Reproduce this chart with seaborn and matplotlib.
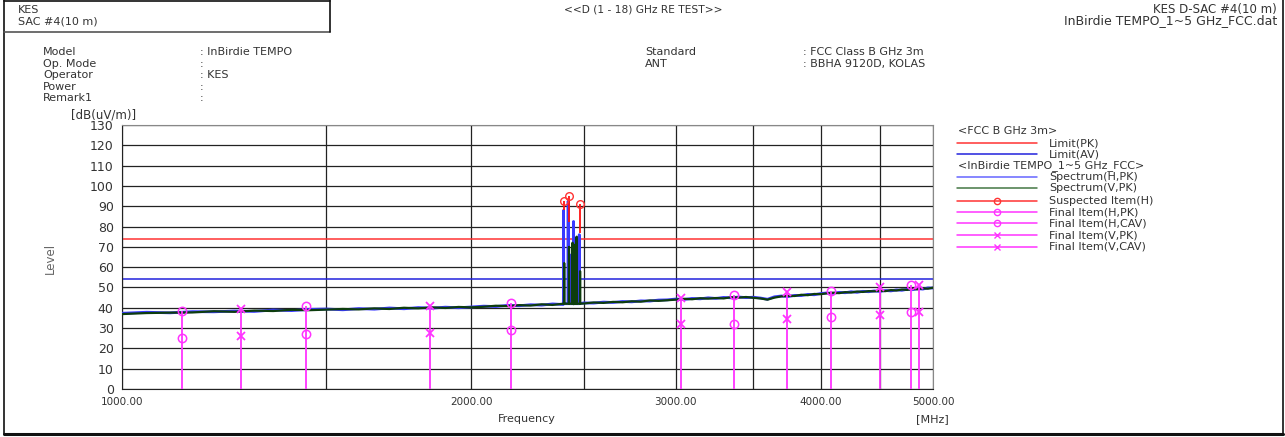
import matplotlib
matplotlib.use("Agg")
import matplotlib.pyplot as plt
from matplotlib.lines import Line2D
from matplotlib.ticker import FixedLocator, NullFormatter, FixedFormatter
import seaborn as sns
import pandas as pd

# ---- data ----
base_freq = list(range(1000, 5001, 50))
spec_h_base = [37.3, 37.8, 37.5, 38.1, 38.0, 38.4, 38.2, 38.9, 38.6, 39.2,
               39.4, 39.0, 39.6, 39.3, 39.9, 39.5, 40.1, 39.8, 40.3, 40.0,
               40.4, 40.8, 40.6, 41.2, 41.0, 41.5, 41.3, 41.9, 41.6, 42.2,
               42.4, 42.3, 42.8, 42.6, 43.1, 42.9, 43.4, 43.3, 43.8, 43.9,
               44.3, 44.1, 44.6, 44.4, 44.9, 44.6, 45.1, 44.9, 45.3, 45.0,
               45.2, 44.8, 44.2, 45.4, 45.8, 45.5, 46.1, 46.0, 46.6, 46.4,
               47.0, 47.3, 47.1, 47.6, 47.4, 47.9, 47.6, 48.1, 47.9, 48.3,
               48.0, 48.5, 48.3, 48.8, 48.6, 49.1, 48.9, 49.4, 49.2, 49.8,
               49.7]
spec_v_base = [36.9, 37.4, 37.6, 37.7, 38.3, 38.0, 38.6, 38.4, 39.0, 38.8,
               39.1, 39.4, 39.2, 39.7, 39.4, 40.0, 39.7, 40.2, 39.9, 40.4,
               40.2, 40.5, 41.0, 40.8, 41.3, 41.1, 41.7, 41.4, 42.0, 41.8,
               42.1, 42.6, 42.4, 42.9, 42.7, 43.2, 43.0, 43.6, 43.4, 43.7,
               44.0, 44.4, 44.2, 44.7, 44.5, 44.8, 44.6, 45.2, 45.0, 45.3,
               44.9, 44.6, 44.0, 45.0, 45.6, 45.9, 45.8, 46.4, 46.2, 46.8,
               46.7, 47.1, 47.4, 47.2, 47.7, 47.5, 48.0, 47.8, 48.2, 48.1,
               48.4, 48.2, 48.7, 48.5, 49.0, 48.8, 49.3, 49.1, 49.6, 49.4,
               49.9]

# narrow emissions around 2.4 GHz
h_spike_freq = [2401, 2402, 2403, 2423, 2424, 2425, 2436, 2437, 2438,
                2449, 2450, 2451, 2477, 2478, 2479]
h_spike_level = [42, 88, 42, 42, 92.5, 42, 42, 66, 42, 42, 82.5, 42, 42, 76, 42]
v_spike_freq = [2404, 2405, 2406, 2427, 2428, 2429, 2444, 2445, 2446,
                2454, 2455, 2456, 2464, 2465, 2466, 2481, 2482, 2483]
v_spike_level = [42, 62, 42, 42, 70, 42, 42, 72, 42, 42, 71, 42, 42, 75, 42, 42, 58, 42]

limit_pk = 74
limit_av = 54

susp_freq = [2402, 2426, 2480]
susp_level = [92.7, 95.0, 91.0]
susp_base = [88.0, 82.0, 77.0]

fin_h_freq = [1126, 1441, 2163, 3368, 4087, 4782]
fin_h_pk = [38.6, 40.7, 42.5, 46.5, 48.1, 51.2]
fin_h_cav = [25.1, 27.3, 29.2, 32.2, 35.3, 37.9]
fin_v_freq = [1267, 1843, 3030, 3741, 4502, 4865]
fin_v_pk = [39.4, 40.7, 44.7, 47.6, 50.0, 51.2]
fin_v_cav = [26.1, 27.8, 32.0, 34.3, 36.4, 38.1]

x_ticks = [1000, 2000, 3000, 4000, 5000]
x_grid_minor = [1500, 2500, 3500, 4500]

# ---- styling ----
sns.set_style("white")
plt.rcParams['font.family'] = ['DejaVu Sans']
plt.rcParams['font.size'] = 7.5
TXT = "#333333"
MAG = "#ff33ff"
BLUE_H = "#3a3aff"
GREEN_V = "#0d3d0d"

W, H = 1285, 437
fig = plt.figure(figsize=(W / 100, H / 100), dpi=100)
ax = fig.add_axes([122 / W, 1 - 389 / H, 811 / W, 264 / H])

df_h = pd.DataFrame({"freq": base_freq + h_spike_freq,
                     "level": spec_h_base + h_spike_level}).sort_values("freq")
df_v = pd.DataFrame({"freq": base_freq + v_spike_freq,
                     "level": spec_v_base + v_spike_level}).sort_values("freq")

ax.axhline(limit_pk, color="#ff3333", lw=1.1, zorder=2)
ax.axhline(limit_av, color="#2222dd", lw=1.1, zorder=2)

sns.lineplot(data=df_h, x="freq", y="level", estimator=None, sort=False,
             color=BLUE_H, lw=2.0, ax=ax, zorder=3)
sns.lineplot(data=df_v, x="freq", y="level", estimator=None, sort=False,
             color=GREEN_V, lw=1.6, ax=ax, zorder=4)

# suspected items
ax.vlines(susp_freq, susp_base, susp_level, color="#ff1111", lw=1.3, zorder=5)
ax.plot(susp_freq, susp_level, "o", ms=5.5, mfc="none", mec="#ff3333", mew=1.0, zorder=6)

# final items
ax.vlines(fin_h_freq, 0, fin_h_pk, color=MAG, lw=1.3, zorder=5)
ax.vlines(fin_v_freq, 0, fin_v_pk, color=MAG, lw=1.3, zorder=5)
ax.plot(fin_h_freq, fin_h_pk, "o", ms=6, mfc="none", mec=MAG, mew=1.1, zorder=6)
ax.plot(fin_h_freq, fin_h_cav, "o", ms=6, mfc="none", mec=MAG, mew=1.1, zorder=6)
ax.plot(fin_v_freq, fin_v_pk, "x", ms=6, mec=MAG, mew=1.3, zorder=6)
ax.plot(fin_v_freq, fin_v_cav, "x", ms=6, mec=MAG, mew=1.3, zorder=6)

ax.set_xscale("log")
ax.set_xlim(1000, 5000)
ax.set_ylim(0, 130)
ax.xaxis.set_major_locator(FixedLocator(x_ticks))
ax.xaxis.set_major_formatter(FixedFormatter(["%.2f" % v for v in x_ticks]))
ax.xaxis.set_minor_locator(FixedLocator(x_grid_minor))
ax.xaxis.set_minor_formatter(NullFormatter())
ax.tick_params(axis="x", which="both", length=0, pad=6, labelsize=7.5, labelcolor=TXT)
ax.set_yticks(range(0, 131, 10))
ax.yaxis.set_minor_locator(FixedLocator(range(0, 131, 2)))
ax.tick_params(axis="y", which="major", direction="in", length=8, width=0.8,
               labelsize=9, labelcolor=TXT, pad=6)
ax.tick_params(axis="y", which="minor", direction="in", length=5, width=0.8)
ax.grid(True, which="major", axis="both", color="#222222", lw=0.9, zorder=1)
ax.grid(True, which="minor", axis="x", color="#222222", lw=0.9, zorder=1)
ax.set_axisbelow(True)
for side in ["top", "right"]:
    ax.spines[side].set_color("#888888")
for side in ["left", "bottom"]:
    ax.spines[side].set_color("#222222")
ax.set_xlabel("")
ax.set_ylabel("")


def ftxt(x, y, s, **kw):
    kw.setdefault("color", TXT)
    kw.setdefault("fontsize", 8)
    kw.setdefault("va", "center")
    fig.text(x / W, 1 - y / H, s, **kw)


def fline(x0, x1, y0, y1, **kw):
    fig.add_artist(Line2D([x0 / W, x1 / W], [1 - y0 / H, 1 - y1 / H],
                          transform=fig.transFigure, **kw))


# axis captions
ftxt(104, 115, "[dB(uV/m)]", ha="center", fontsize=8.5)
ftxt(50, 258, "Level", ha="center", rotation=90, fontsize=8.5, color="#666666")
ftxt(527, 419, "Frequency", ha="center")
ftxt(932, 419, "[MHz]", ha="center")

# header
ftxt(18, 10, "KES")
ftxt(18, 21, "SAC #4(10 m)")
ftxt(643, 10, "<<D (1 - 18) GHz RE TEST>>", ha="center", fontsize=7.7)
ftxt(1277, 10, "KES D-SAC #4(10 m)", ha="right", fontsize=8.5)
ftxt(1277, 21, "InBirdie TEMPO_1~5 GHz_FCC.dat", ha="right", fontsize=9)

info_left = ["Model", "Op. Mode", "Operator", "Power", "Remark1"]
info_left_val = [": InBirdie TEMPO", ":", ": KES", ":", ":"]
for i, (k, v) in enumerate(zip(info_left, info_left_val)):
    ftxt(43, 52 + i * 11.6, k)
    ftxt(200, 52 + i * 11.6, v)
info_right = ["Standard", "ANT"]
info_right_val = [": FCC Class B GHz 3m", ": BBHA 9120D, KOLAS"]
for i, (k, v) in enumerate(zip(info_right, info_right_val)):
    ftxt(645, 52 + i * 11.6, k)
    ftxt(803, 52 + i * 11.6, v)

# legend
ftxt(958, 131, "<FCC B GHz 3m>")
ftxt(958, 166, "<InBirdie TEMPO_1~5 GHz_FCC>")
legend_rows = [
    (143.3, "Limit(PK)", "#ff3333", None),
    (154.3, "Limit(AV)", "#2222dd", None),
    (177.3, "Spectrum(H,PK)", "#6666ff", None),
    (188.3, "Spectrum(V,PK)", "#447744", None),
    (200.7, "Suspected Item(H)", "#ff3333", "o"),
    (212.3, "Final Item(H,PK)", MAG, "o"),
    (223.3, "Final Item(H,CAV)", MAG, "o"),
    (235.0, "Final Item(V,PK)", MAG, "x"),
    (246.7, "Final Item(V,CAV)", MAG, "x"),
]
for y, label, col, mk in legend_rows:
    fline(957, 1037, y, y, color=col, lw=1.1)
    if mk is not None:
        fig.add_artist(Line2D([997 / W], [1 - y / H], transform=fig.transFigure,
                              marker=mk, ms=4.5, mfc="none", mec=col, mew=1.0, lw=0))
    ftxt(1049, y, label)

# page frame
fline(4, 4, 0, 434, color="#111111", lw=1.2)
fline(1283, 1283, 0, 434, color="#111111", lw=1.2)
fline(4, 1283, 434, 434, color="#111111", lw=2.2)
fline(4, 330, 1, 1, color="#111111", lw=1.2)
fline(4, 330, 32, 32, color="#555555", lw=1.2)
fline(330, 330, 0, 32, color="#111111", lw=1.2)

fig.savefig("out.png", dpi=100)
